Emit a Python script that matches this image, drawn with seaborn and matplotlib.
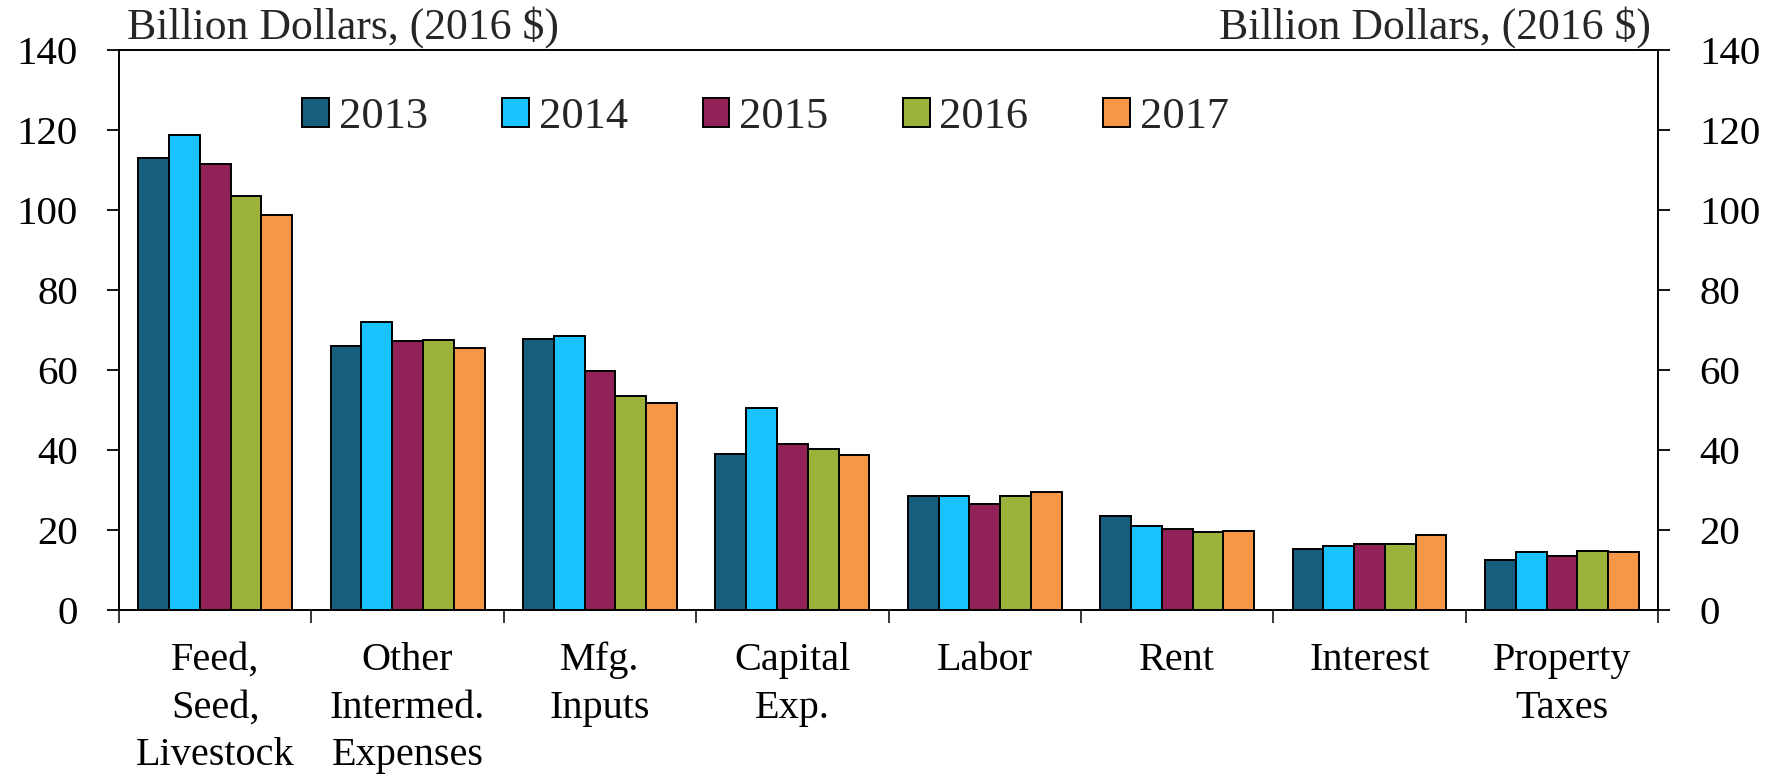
import numpy as np
import pandas as pd
import matplotlib
matplotlib.use("Agg")
import matplotlib.pyplot as plt
from matplotlib.patches import Patch
import seaborn as sns

categories = ["Feed,\nSeed,\nLivestock", "Other\nIntermed.\nExpenses", "Mfg.\nInputs",
              "Capital\nExp.", "Labor", "Rent", "Interest", "Property\nTaxes"]
years = ["2013", "2014", "2015", "2016", "2017"]
v2013 = [113.0, 66.1, 67.8, 38.9, 28.6, 23.5, 15.2, 12.6]
v2014 = [118.8, 72.1, 68.5, 50.4, 28.5, 20.9, 15.9, 14.5]
v2015 = [111.5, 67.3, 59.8, 41.4, 26.6, 20.3, 16.6, 13.6]
v2016 = [103.5, 67.5, 53.5, 40.2, 28.6, 19.6, 16.6, 14.7]
v2017 = [98.7, 65.5, 51.7, 38.7, 29.5, 19.7, 18.7, 14.4]
colors = ["#175E7E", "#1AC3FF", "#922158", "#9BB33A", "#F79646"]
yticks = [0, 20, 40, 60, 80, 100, 120, 140]
unit_label = "Billion Dollars, (2016 $)"

series = [v2013, v2014, v2015, v2016, v2017]
rows = []
for yr, vals in zip(years, series):
    for cat, v in zip(categories, vals):
        rows.append({"category": cat, "year": yr, "value": v})
df = pd.DataFrame(rows)

sns.set_theme(style="white")
plt.rcParams["font.family"] = ["Liberation Serif", "DejaVu Serif"]
plt.rcParams["axes.linewidth"] = 1.4

fig = plt.figure(figsize=(17.81, 7.77), dpi=100)
ax = fig.add_axes([0.0668, 0.215, 0.931 - 0.0668, 0.9356 - 0.215])

sns.barplot(data=df, x="category", y="value", hue="year", order=categories,
            hue_order=years, palette=colors, width=0.8, edgecolor="black",
            linewidth=1.4, saturation=1, legend=False, ax=ax)

ax.set_xlim(-0.5, len(categories) - 0.5)
ax.set_ylim(0, 140)
ax.set_xlabel("")
ax.set_ylabel("")
for s in ax.spines.values():
    s.set_visible(True)
    s.set_color("black")
    s.set_linewidth(1.4)

ax.set_yticks(yticks)
ax.set_yticklabels([str(t) for t in yticks])
ax.tick_params(axis="y", which="major", left=True, right=True, labelleft=True,
               labelright=True, direction="out", length=8.5, width=1.3,
               pad=21, labelsize=29.5, colors="black")

ax.set_xticks(range(len(categories)))
ax.set_xticklabels(categories, linespacing=1.38)
ax.set_xticks(np.arange(-0.5, len(categories), 1), minor=True)
ax.tick_params(axis="x", which="major", length=0, pad=23, labelsize=29,
               colors="black")
ax.tick_params(axis="x", which="minor", bottom=True, direction="out",
               length=9, width=1.3)

ax.text(0.005, 1.004, unit_label, transform=ax.transAxes, ha="left",
        va="bottom", fontsize=31.5)
ax.text(0.995, 1.004, unit_label, transform=ax.transAxes, ha="right",
        va="bottom", fontsize=31.5)

handles = [Patch(facecolor=c, edgecolor="black", linewidth=1.4) for c in colors]
ax.legend(handles, years, loc="center left", bbox_to_anchor=(0.119, 0.88),
          ncol=5, frameon=False, fontsize=32, handlelength=0.6,
          handleheight=0.6, handletextpad=0.22, columnspacing=1.68,
          borderaxespad=0, borderpad=0)

fig.savefig("out.png", dpi=100)
